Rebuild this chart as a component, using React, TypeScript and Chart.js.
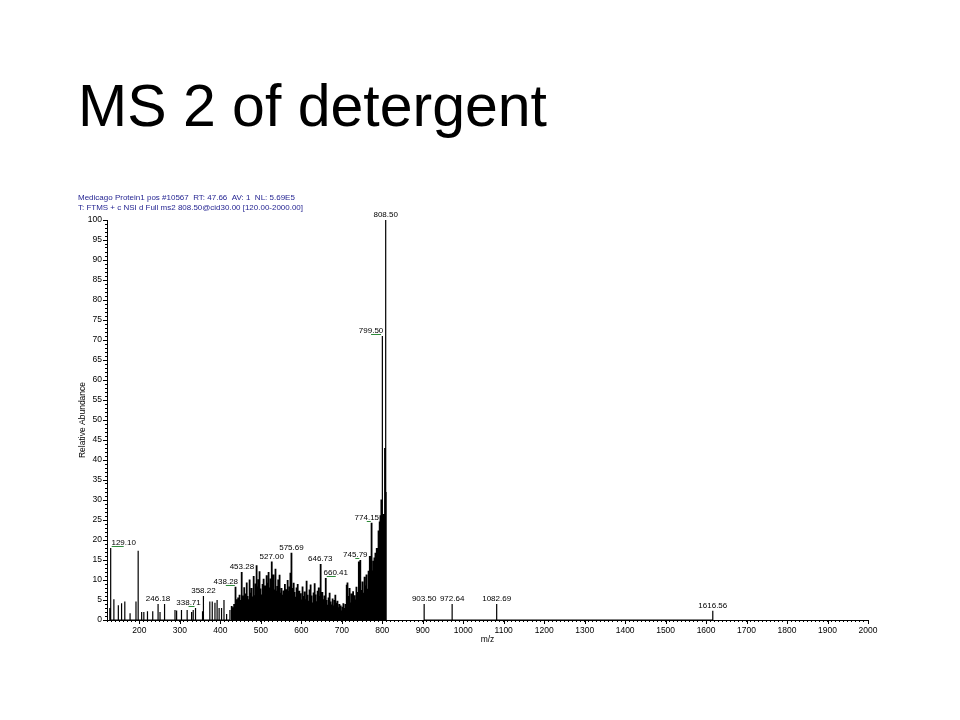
import React, { useEffect, useRef } from 'react';
import { Chart, registerables } from 'chart.js';

Chart.register(...registerables);

// ---------- text ----------
const TITLE = 'MS 2 of detergent';
const HEADER_LINES = [
  'Medicago Protein1 pos #10567  RT: 47.66  AV: 1  NL: 5.69E5',
  'T: FTMS + c NSI d Full ms2 808.50@cid30.00 [120.00-2000.00]',
];
const X_TITLE = 'm/z';
const Y_TITLE = 'Relative Abundance';

// ---------- axes ----------
const X_MIN = 120;
const X_MAX = 2000;
const X_MINOR_STEP = 10;
const X_MAJOR_STEP = 100;
const Y_MIN = 0;
const Y_MAX = 100;
const Y_MINOR_STEP = 1;
const Y_MAJOR_STEP = 5;

// ---------- data: [m/z, relative abundance] ----------
const lowMassPeaks: [number, number][] = [
  [127.0, 3.0], [129.1, 18.0], [137.0, 5.2], [148.0, 3.7], [156.0, 4.2], [164.0, 4.6],
  [177.0, 1.7], [191.6, 4.6], [197.0, 17.3], [205.6, 2.0], [211.0, 2.0], [220.0, 2.2],
  [233.0, 2.2], [246.18, 4.0], [251.0, 2.0], [261.0, 4.0], [263.0, 2.0], [288.0, 2.5],
  [292.0, 2.4], [304.0, 2.5], [318.0, 2.5], [329.0, 2.0], [333.0, 2.5], [338.71, 3.0],
  [356.0, 2.2], [358.22, 6.0], [374.0, 4.6], [380.0, 4.6], [386.7, 4.3], [392.0, 5.0],
  [397.0, 3.0], [403.0, 3.0], [409.0, 5.0], [415.5, 1.5], [423.7, 2.5],
];

const clusterPeaks: [number, number][] = [
  [428.1, 3.5], [430.2, 2.8], [432.0, 3.2], [434.1, 4.0], [436.3, 4.6], [438.28, 8.3],
  [440.1, 5.2], [442.2, 4.1], [444.0, 5.6], [446.1, 4.4], [448.3, 6.3], [450.2, 5.0],
  [452.0, 7.2], [453.28, 12.0], [455.1, 6.1], [457.2, 4.8], [459.0, 8.2], [461.1, 5.5],
  [463.3, 6.6], [465.2, 9.4], [467.0, 6.0], [469.1, 5.2], [471.2, 7.4], [473.0, 10.1],
  [475.2, 6.8], [477.1, 8.0], [479.0, 5.9], [481.2, 11.0], [483.1, 7.0], [485.0, 6.2],
  [487.2, 9.1], [489.6, 13.7], [491.1, 8.4], [493.2, 10.2], [495.0, 7.5], [496.8, 12.2],
  [498.9, 7.9], [501.1, 6.4], [503.0, 9.0], [505.2, 7.1], [506.9, 10.3], [509.1, 6.8],
  [511.0, 8.6], [513.2, 11.2], [515.1, 7.7], [517.0, 9.3], [519.2, 12.0], [521.1, 8.1],
  [523.0, 6.9], [525.0, 10.4], [527.0, 14.6], [529.1, 9.8], [531.2, 11.4], [533.0, 7.6],
  [535.1, 12.8], [537.0, 9.0], [539.2, 7.3], [541.1, 8.5], [543.0, 10.1], [545.2, 7.0],
  [547.1, 11.3], [549.0, 6.8], [551.2, 8.0], [553.1, 6.3], [555.0, 7.4], [557.2, 5.6],
  [559.5, 9.0], [561.1, 6.5], [563.2, 7.7], [565.0, 5.8], [567.1, 10.0], [569.2, 7.2],
  [571.0, 8.4], [573.1, 11.8], [575.69, 16.8], [577.5, 8.0], [579.3, 6.4], [581.2, 9.3],
  [583.0, 7.0], [585.1, 5.8], [587.2, 8.1], [589.0, 6.2], [591.1, 9.0], [593.0, 5.4],
  [595.2, 7.3], [597.1, 4.9], [599.0, 6.7], [601.2, 5.1], [603.1, 8.4], [605.0, 6.0],
  [607.2, 4.6], [609.1, 7.1], [611.0, 5.2], [613.1, 9.8], [615.2, 6.3], [617.0, 4.8],
  [619.1, 7.6], [621.2, 5.5], [623.0, 8.9], [625.1, 6.1], [627.0, 4.4], [629.2, 6.9],
  [631.1, 5.0], [633.0, 9.2], [635.2, 6.4], [637.1, 4.7], [639.0, 7.3], [641.2, 5.3],
  [643.1, 8.1], [645.0, 6.0], [646.73, 14.0], [648.5, 6.6], [650.2, 4.5], [652.1, 7.0],
  [654.0, 5.2], [656.2, 4.0], [658.1, 6.1], [660.41, 10.5], [662.2, 5.0], [664.0, 3.8],
  [666.1, 5.6], [668.2, 4.2], [670.0, 6.8], [672.1, 4.6], [674.0, 3.9], [676.2, 5.4],
  [678.1, 4.1], [680.0, 3.6], [682.2, 5.0], [684.1, 6.3], [686.0, 4.3], [688.2, 3.4],
  [690.1, 4.8], [692.0, 3.2], [694.2, 4.0], [696.1, 2.8], [698.0, 3.6], [700.2, 2.4],
  [702.1, 3.3], [704.0, 4.2], [706.2, 3.0], [708.1, 2.6], [710.0, 4.0], [712.2, 8.8],
  [714.1, 9.4], [716.0, 6.0], [718.2, 8.0], [720.1, 5.4], [722.0, 4.4], [724.2, 6.6],
  [726.1, 5.0], [728.0, 7.2], [730.2, 4.8], [732.1, 6.2], [734.0, 5.1], [736.2, 8.3],
  [738.1, 5.6], [740.0, 7.0], [742.1, 14.6], [744.0, 6.4], [745.79, 15.0], [747.6, 7.5],
  [749.4, 5.8], [751.2, 9.6], [753.1, 6.8], [755.0, 10.8], [757.2, 7.2], [759.1, 8.6],
  [761.0, 11.4], [763.2, 7.8], [765.1, 9.2], [767.0, 12.3], [769.2, 16.0], [771.1, 10.1],
  [772.8, 13.0], [774.15, 24.3], [775.9, 12.4], [777.4, 14.8], [779.0, 11.6], [780.6, 15.6],
  [782.2, 13.2], [783.8, 16.8], [785.4, 14.2], [787.0, 18.0], [788.6, 16.4], [790.0, 20.2],
  [791.4, 22.4], [792.8, 21.0], [794.2, 24.6], [795.6, 26.2], [797.0, 28.4], [798.3, 30.1],
];

const precursorPeaks: [number, number][] = [
  [799.5, 71.0], [800.8, 29.0], [802.2, 26.5], [803.6, 24.8], [805.0, 30.4],
  [806.7, 43.0], [808.5, 100.0], [809.6, 32.0],
];

const highMassPeaks: [number, number][] = [
  [903.5, 4.0], [972.64, 4.0], [1082.69, 4.0], [1616.56, 2.3],
];

const labeledMz = [
  129.1, 246.18, 338.71, 358.22, 438.28, 453.28, 527.0, 575.69, 646.73,
  660.41, 745.79, 774.15, 799.5, 808.5, 903.5, 972.64, 1082.69, 1616.56,
];

// ---------- styles ----------
const FONT = "'Liberation Sans', Arial, sans-serif";
const NARROW = "'Liberation Sans Narrow', 'Liberation Sans', Arial, sans-serif";
const HEADER_COLOR = '#1f1f8f';
const LEADER_COLOR = '#2e8b3a';
// label horizontal displacement (px) for crowded peaks
const LABEL_DX: Record<string, number> = {
  '129.10': 13, '338.71': -7, '438.28': -10, '660.41': 10,
  '745.79': -5, '774.15': -5, '799.50': -11,
};

const allPeaks = [...lowMassPeaks, ...clusterPeaks, ...precursorPeaks, ...highMassPeaks];

const toSticks = (peaks: [number, number][]) =>
  peaks.flatMap(([m, a]) => [
    { x: m, y: 0 },
    { x: m, y: a },
    { x: m, y: 0 },
  ]);

const decorPlugin = {
  id: 'decor',
  beforeDraw(chart: any) {
    const { ctx } = chart;
    ctx.save();
    ctx.fillStyle = '#fff';
    ctx.fillRect(0, 0, chart.width, chart.height);
    ctx.fillStyle = '#000';
    ctx.font = `59px ${FONT}`;
    ctx.textBaseline = 'alphabetic';
    ctx.textAlign = 'left';
    ctx.fillText(TITLE, 78, 126);
    ctx.fillStyle = HEADER_COLOR;
    ctx.font = `8px ${FONT}`;
    ctx.fillText(HEADER_LINES[0], 78, 200, 227);
    ctx.fillText(HEADER_LINES[1], 78, 210, 225);
    ctx.restore();
  },
  afterDraw(chart: any) {
    const { ctx, chartArea } = chart;
    const xs = chart.scales.x;
    const ys = chart.scales.y;
    ctx.save();
    ctx.strokeStyle = '#000';
    ctx.lineWidth = 1;
    ctx.beginPath();
    for (let v = 200; v <= X_MAX; v += X_MAJOR_STEP) {
      const px = Math.round(xs.getPixelForValue(v)) + 0.5;
      ctx.moveTo(px, chartArea.bottom);
      ctx.lineTo(px, chartArea.bottom + 4);
    }
    for (let v = Y_MIN; v <= Y_MAX; v += Y_MAJOR_STEP) {
      const py = Math.round(ys.getPixelForValue(v)) + 0.5;
      ctx.moveTo(chartArea.left - 4, py);
      ctx.lineTo(chartArea.left, py);
    }
    ctx.stroke();

    // peak labels
    ctx.font = `8px ${FONT}`;
    ctx.textAlign = 'center';
    ctx.textBaseline = 'alphabetic';
    for (const m of labeledMz) {
      const pk = allPeaks.find((p) => Math.abs(p[0] - m) < 0.05);
      if (!pk) continue;
      const text = m.toFixed(2);
      const px = xs.getPixelForValue(pk[0]);
      const py = ys.getPixelForValue(pk[1]);
      const dx = LABEL_DX[text] || 0;
      ctx.fillStyle = '#000';
      ctx.fillText(text, px + dx, py - 3);
      if (dx !== 0) {
        ctx.strokeStyle = LEADER_COLOR;
        ctx.beginPath();
        const a = dx > 0 ? px + 1 : px + dx;
        const b = dx > 0 ? px + dx : px - 1;
        ctx.moveTo(a, Math.round(py) - 1.5);
        ctx.lineTo(b, Math.round(py) - 1.5);
        ctx.stroke();
      }
    }
    ctx.restore();
  },
};

export default function App() {
  const ref = useRef<HTMLCanvasElement | null>(null);

  useEffect(() => {
    if (!ref.current) return;
    const common = { borderColor: '#000', pointRadius: 0, tension: 0, fill: false };
    const chart = new Chart(ref.current, {
      type: 'line',
      data: {
        datasets: [
          { ...common, data: toSticks(lowMassPeaks), borderWidth: 1.2 },
          { ...common, data: toSticks(clusterPeaks), borderWidth: 1.8 },
          { ...common, data: toSticks(precursorPeaks), borderWidth: 1.2 },
          { ...common, data: toSticks(highMassPeaks), borderWidth: 1.2 },
        ],
      },
      options: {
        animation: false,
        responsive: false,
        devicePixelRatio: 1,
        layout: { padding: { left: 0, top: 220, right: 92, bottom: 70 } },
        plugins: {
          legend: { display: false },
          tooltip: { enabled: false },
          title: { display: false },
        },
        scales: {
          x: {
            type: 'linear',
            min: X_MIN,
            max: X_MAX,
            afterFit: (s: any) => {
              s.height = 30;
            },
            border: { color: '#000', width: 1 },
            grid: { display: true, drawOnChartArea: false, tickLength: 2, color: '#000', lineWidth: 1 },
            ticks: {
              stepSize: X_MINOR_STEP,
              autoSkip: false,
              maxRotation: 0,
              minRotation: 0,
              includeBounds: false,
              maxTicksLimit: 1000,
              padding: 4,
              color: '#000',
              font: { family: NARROW, size: 8.5 },
              callback: (v: any) => (v % X_MAJOR_STEP === 0 && v >= 200 ? String(v) : ''),
            },
            title: {
              display: true,
              text: X_TITLE,
              color: '#000',
              font: { family: NARROW, size: 8.5 },
              padding: { top: 0, bottom: 5 },
            },
          },
          y: {
            type: 'linear',
            min: Y_MIN,
            max: Y_MAX,
            afterFit: (s: any) => {
              s.width = 107;
            },
            border: { color: '#000', width: 1 },
            grid: { display: true, drawOnChartArea: false, tickLength: 2, color: '#000', lineWidth: 1 },
            ticks: {
              stepSize: Y_MINOR_STEP,
              autoSkip: false,
              maxTicksLimit: 1000,
              padding: 3,
              color: '#000',
              font: { family: NARROW, size: 8.5 },
              callback: (v: any) => (v % Y_MAJOR_STEP === 0 ? String(v) : ''),
            },
            title: {
              display: true,
              text: Y_TITLE,
              color: '#000',
              font: { family: NARROW, size: 8.5 },
              padding: { top: 78, bottom: 0 },
            },
          },
        },
      },
      plugins: [decorPlugin],
    } as any);
    return () => chart.destroy();
  }, []);

  return (
    <div style={{ position: 'absolute', left: 0, top: 0, width: 960, height: 720, background: '#fff' }}>
      <canvas ref={ref} width={960} height={720} style={{ display: 'block' }} />
    </div>
  );
}
